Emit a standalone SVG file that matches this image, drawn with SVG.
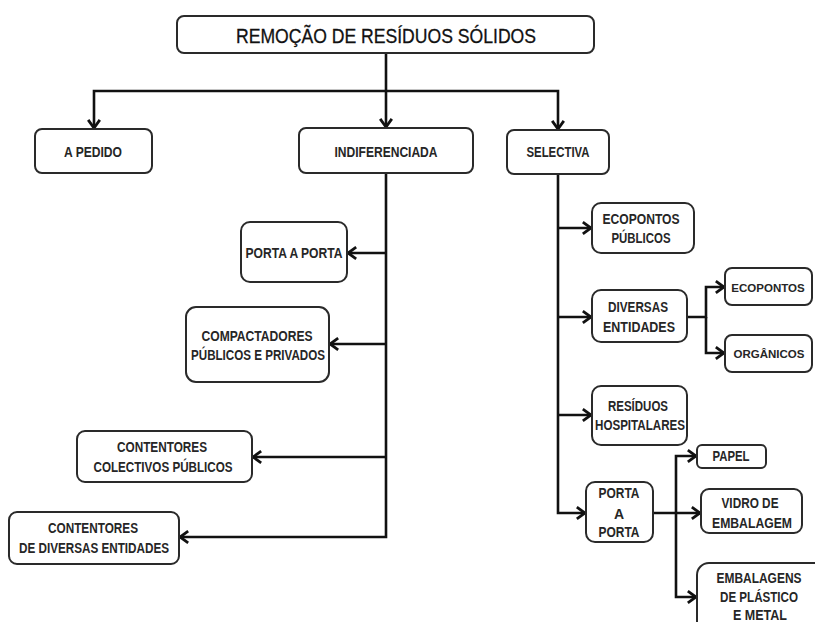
<svg xmlns="http://www.w3.org/2000/svg" width="815" height="622" viewBox="0 0 815 622">
<style>
  .box { fill: #ffffff; stroke: #2a2a2a; stroke-width: 2; }
  .lbl { font-family: "Liberation Sans", Arial, sans-serif; font-weight: bold; font-size: 14px; fill: #262626; text-anchor: middle; }
  .edge { font-size: 11.5px; }
  .title { font-family: "Liberation Sans", Arial, sans-serif; font-size: 21px; fill: #111111; text-anchor: middle; stroke: #111111; stroke-width: 0.3; }
  .con { fill: none; stroke: #111111; stroke-width: 2.6; }
</style>
<defs>
  <marker id="arr" markerUnits="userSpaceOnUse" markerWidth="14" markerHeight="14" refX="10" refY="6" orient="auto" viewBox="0 0 12 12">
    <path d="M3,1 L10,6 L3,11" fill="none" stroke="#111111" stroke-width="2.4"/>
  </marker>
</defs>
<rect width="815" height="622" fill="#ffffff"/>

<g id="connectors">
  <path class="con" d="M386,53 V127" marker-end="url(#arr)"/>
  <path class="con" d="M386,91 H94 V128" marker-end="url(#arr)"/>
  <path class="con" d="M386,91 H558 V129" marker-end="url(#arr)"/>
  <path class="con" d="M386,173 V537 H180" marker-end="url(#arr)"/>
  <path class="con" d="M386,253 H348" marker-end="url(#arr)"/>
  <path class="con" d="M386,344 H330" marker-end="url(#arr)"/>
  <path class="con" d="M386,457 H253" marker-end="url(#arr)"/>
  <path class="con" d="M558,174 V513 H585" marker-end="url(#arr)"/>
  <path class="con" d="M558,228 H591" marker-end="url(#arr)"/>
  <path class="con" d="M558,317 H591" marker-end="url(#arr)"/>
  <path class="con" d="M558,415 H591" marker-end="url(#arr)"/>
  <path class="con" d="M687,317 H706 V287 H724" marker-end="url(#arr)"/>
  <path class="con" d="M706,317 V353 H724" marker-end="url(#arr)"/>
  <path class="con" d="M653,513 H700" marker-end="url(#arr)"/>
  <path class="con" d="M676,513 V456 H696" marker-end="url(#arr)"/>
  <path class="con" d="M676,513 V597 H696" marker-end="url(#arr)"/>
</g>

<g id="n-titulo">
  <rect class="box" x="177" y="16" width="417" height="37" rx="7"/>
  <text class="title" x="386" y="43" textLength="300" lengthAdjust="spacingAndGlyphs">REMOÇÃO DE RESÍDUOS SÓLIDOS</text>
</g>
<g id="n-apedido">
  <rect class="box" x="35" y="129" width="117" height="44" rx="7"/>
  <text class="lbl" x="93" y="157" textLength="58" lengthAdjust="spacingAndGlyphs">A PEDIDO</text>
</g>
<g id="n-indiferenciada">
  <rect class="box" x="299" y="128" width="174" height="45" rx="7"/>
  <text class="lbl" x="386" y="157" textLength="103" lengthAdjust="spacingAndGlyphs">INDIFERENCIADA</text>
</g>
<g id="n-selectiva">
  <rect class="box" x="507" y="130" width="102" height="44" rx="7"/>
  <text class="lbl" x="558" y="157" textLength="63" lengthAdjust="spacingAndGlyphs">SELECTIVA</text>
</g>

<g id="n-portaaporta-i">
  <rect class="box" x="241" y="222" width="106" height="60" rx="9"/>
  <text class="lbl" x="294" y="258" textLength="97" lengthAdjust="spacingAndGlyphs">PORTA A PORTA</text>
</g>
<g id="n-compactadores">
  <rect class="box" x="186" y="307" width="143" height="75" rx="10"/>
  <text class="lbl" x="257" y="341" textLength="111" lengthAdjust="spacingAndGlyphs">COMPACTADORES</text>
  <text class="lbl" x="258" y="360" textLength="134" lengthAdjust="spacingAndGlyphs">PÚBLICOS E PRIVADOS</text>
</g>
<g id="n-contentores-colectivos">
  <rect class="box" x="77" y="431" width="175" height="51" rx="8"/>
  <text class="lbl" x="162" y="452" textLength="90" lengthAdjust="spacingAndGlyphs">CONTENTORES</text>
  <text class="lbl" x="163" y="472" textLength="139" lengthAdjust="spacingAndGlyphs">COLECTIVOS PÚBLICOS</text>
</g>
<g id="n-contentores-diversas">
  <rect class="box" x="9" y="512" width="170" height="52" rx="8"/>
  <text class="lbl" x="93" y="533" textLength="90" lengthAdjust="spacingAndGlyphs">CONTENTORES</text>
  <text class="lbl" x="94" y="553" textLength="150" lengthAdjust="spacingAndGlyphs">DE DIVERSAS ENTIDADES</text>
</g>

<g id="n-ecopontos-publicos">
  <rect class="box" x="592" y="203" width="102" height="50" rx="9"/>
  <text class="lbl" x="641" y="224" textLength="77" lengthAdjust="spacingAndGlyphs">ECOPONTOS</text>
  <text class="lbl" x="641" y="243" textLength="59" lengthAdjust="spacingAndGlyphs">PÚBLICOS</text>
</g>
<g id="n-diversas-entidades">
  <rect class="box" x="592" y="290" width="95" height="52" rx="9"/>
  <text class="lbl" x="638" y="312" textLength="60" lengthAdjust="spacingAndGlyphs">DIVERSAS</text>
  <text class="lbl" x="639" y="332" textLength="72" lengthAdjust="spacingAndGlyphs">ENTIDADES</text>
</g>
<g id="n-ecopontos">
  <rect class="box" x="725" y="268" width="87" height="37" rx="7"/>
  <text class="lbl edge" x="768" y="292">ECOPONTOS</text>
</g>
<g id="n-organicos">
  <rect class="box" x="725" y="335" width="87" height="37" rx="7"/>
  <text class="lbl edge" x="769" y="358">ORGÂNICOS</text>
</g>
<g id="n-residuos-hospitalares">
  <rect class="box" x="592" y="386" width="95" height="59" rx="9"/>
  <text class="lbl" x="638" y="411" textLength="60" lengthAdjust="spacingAndGlyphs">RESÍDUOS</text>
  <text class="lbl" x="640" y="430" textLength="90" lengthAdjust="spacingAndGlyphs">HOSPITALARES</text>
</g>
<g id="n-portaaporta-s">
  <rect class="box" x="586" y="482" width="67" height="60" rx="9"/>
  <text class="lbl" x="619" y="498" textLength="41" lengthAdjust="spacingAndGlyphs">PORTA</text>
  <text class="lbl" x="619" y="519">A</text>
  <text class="lbl" x="619" y="537" textLength="41" lengthAdjust="spacingAndGlyphs">PORTA</text>
</g>
<g id="n-papel">
  <rect class="box" x="697" y="445" width="69" height="23" rx="5"/>
  <text class="lbl" x="731" y="461" textLength="37" lengthAdjust="spacingAndGlyphs">PAPEL</text>
</g>
<g id="n-vidro">
  <rect class="box" x="701" y="489" width="101" height="44" rx="8"/>
  <text class="lbl" x="750" y="508" textLength="57" lengthAdjust="spacingAndGlyphs">VIDRO DE</text>
  <text class="lbl" x="752" y="528" textLength="80" lengthAdjust="spacingAndGlyphs">EMBALAGEM</text>
</g>
<g id="n-embalagens">
  <rect class="box" x="697" y="563" width="140" height="80" rx="12"/>
  <text class="lbl" x="759" y="583" textLength="85" lengthAdjust="spacingAndGlyphs">EMBALAGENS</text>
  <text class="lbl" x="759" y="602" textLength="78" lengthAdjust="spacingAndGlyphs">DE PLÁSTICO</text>
  <text class="lbl" x="760" y="620" textLength="54" lengthAdjust="spacingAndGlyphs">E METAL</text>
</g>
</svg>
